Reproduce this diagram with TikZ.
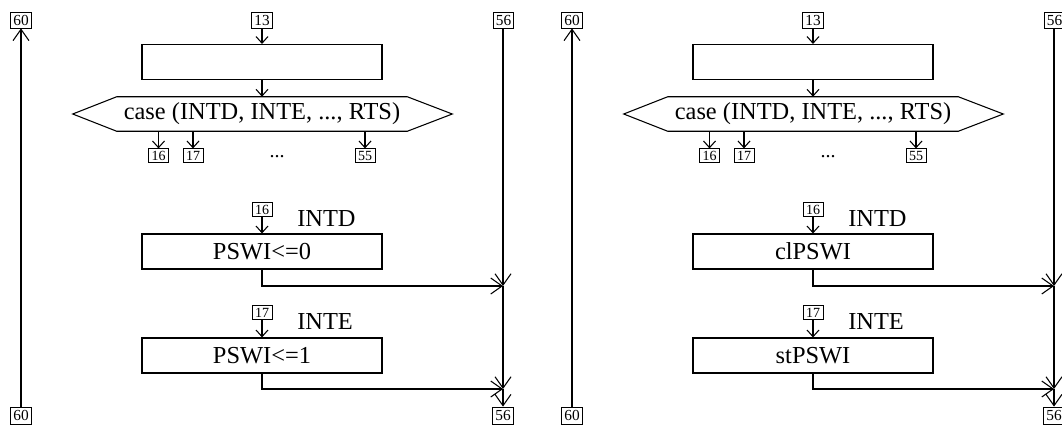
\documentclass[tikz,border=0pt]{standalone}
\usepackage{fontspec}
\setmainfont{Liberation Serif}
\usetikzlibrary{arrows.meta,calc}
\tikzset{
  ln/.style={line width=0.8pt},
  sarr/.style={ln,-{Straight Barb[length=5pt,width=9pt]}},
  larr/.style={ln,-{Straight Barb[length=8.5pt,width=12pt]}},
  proc/.style={draw,ln,minimum width=180pt,minimum height=26.25pt,inner sep=0pt,font=\fontsize{18.3}{20}\selectfont},
  hexbox/.style={inner sep=0pt,minimum width=217.5pt,minimum height=25.5pt,font=\fontsize{18.3}{20}\selectfont},
  numA/.style={draw,line width=0.6pt,minimum width=15.5pt,minimum height=12pt,inner sep=0pt,font=\fontsize{11.5}{12}\selectfont},
  numB/.style={draw,line width=0.6pt,minimum width=15pt,minimum height=10pt,inner sep=0pt,font=\fontsize{10.5}{11}\selectfont},
  numC/.style={draw,line width=0.6pt,minimum width=15.5pt,minimum height=12.75pt,inner sep=0pt,font=\fontsize{11.5}{12}\selectfont},
  lbl/.style={font=\fontsize{18.3}{20}\selectfont,anchor=base west,inner sep=0pt},
  dotlbl/.style={font=\fontsize{15}{16}\selectfont,anchor=base,inner sep=0pt},
}
\newcommand\drawpanel[4]{%
\begin{scope}[xshift=#2]
  \node[numA] (#1t60) at (21,20) {60};
  \node[numA] (#1t13) at (262,20) {13};
  \node[numA] (#1t56) at (503.5,20) {56};
  \node[proc] (#1r0) at (262,62) {};
  \node[hexbox] (#1hex) at (262,114) {case (INTD, INTE, ..., RTS)};
  \draw[ln] (#1hex.north west) -- (#1hex.north east) -- ($(#1hex.east)+(45,0)$)
     -- (#1hex.south east) -- (#1hex.south west) -- ($(#1hex.west)+(-44,0)$) -- cycle;
  \node[numB] (#1a16) at (158.5,155.5) {16};
  \node[numB] (#1a17) at (193,155.5) {17};
  \node[numB] (#1a55) at (365,155.5) {55};
  \node[dotlbl] (#1dots) at (277,157) {...};
  \draw[sarr] (#1t13) -- (#1r0);
  \draw[sarr] (#1r0) -- (#1hex);
  \draw[sarr] (#1a16 |- #1hex.south) -- (#1a16);
  \draw[sarr] (#1a17 |- #1hex.south) -- (#1a17);
  \draw[sarr] (#1a55 |- #1hex.south) -- (#1a55);
  \node[numB] (#1b16) at (262,209.5) {16};
  \node[lbl] (#1l16) at (297,226) {INTD};
  \node[proc] (#1r1) at (262,251.5) {#3};
  \draw[sarr] (#1b16) -- (#1r1);
  \node[numB] (#1b17) at (262,312.5) {17};
  \node[lbl] (#1l17) at (297,329) {INTE};
  \node[proc] (#1r2) at (262,355.5) {#4};
  \draw[sarr] (#1b17) -- (#1r2);
  \node[numC] (#1b56) at (503,415.5) {56};
  \node[numC] (#1b60) at (21,415.5) {60};
  \coordinate (#1m1) at (503,286);
  \coordinate (#1m2) at (503,389);
  \draw[larr] (#1r1.south) |- (#1m1);
  \draw[larr] (#1r2.south) |- (#1m2);
  \draw[larr] (#1t56.south -| #1m1) -- (#1m1);
  \draw[larr] (#1m1) -- (#1m2);
  \draw[larr] (#1m2) -- (#1b56);
  \draw[larr] (#1b60) -- (#1t60);
\end{scope}}
\begin{document}
\begin{tikzpicture}[x=0.75pt,y=-0.75pt]
  \useasboundingbox (0,0) rectangle (1062,425);
  \clip (0,0) rectangle (1062,425);
  \drawpanel{L}{0pt}{PSWI<=0}{PSWI<=1}
  \drawpanel{R}{413.25pt}{clPSWI}{stPSWI}
\end{tikzpicture}
\end{document}
